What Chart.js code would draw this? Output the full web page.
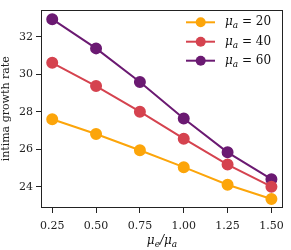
<!DOCTYPE html>
<html><head><meta charset="utf-8">
<script src="https://cdn.jsdelivr.net/npm/chart.js@4/dist/chart.umd.min.js"></script>
<style>html,body{margin:0;padding:0;background:#fff}#wrap{width:291px;height:250px}</style>
</head><body><div id="wrap"><canvas id="c" width="291" height="250"></canvas></div>
<script>
const xValues = [0.25, 0.50, 0.75, 1.00, 1.25, 1.50];
const muA = [20, 40, 60];
const series20 = [27.60, 26.81, 25.94, 25.04, 24.10, 23.34];
const series40 = [30.61, 29.37, 28.00, 26.56, 25.18, 24.00];
const series60 = [32.94, 31.38, 29.59, 27.64, 25.83, 24.40];
const xTicks = [0.25, 0.50, 0.75, 1.00, 1.25, 1.50];
const yTicks = [24, 26, 28, 30, 32];
const colors = ['#fca50a', '#d5434f', '#6b1a72'];
const allSeries = [series20, series40, series60];

const FONT = "'DejaVu Serif', 'Liberation Serif', serif";

const datasets = allSeries.map((s, i) => ({
  label: 'mu_a = ' + muA[i],
  data: s.map((v, j) => ({x: xValues[j], y: v})),
  borderColor: colors[i], backgroundColor: colors[i],
  pointBackgroundColor: colors[i], pointBorderColor: colors[i],
  borderWidth: 2, pointRadius: 5, pointHoverRadius: 5, tension: 0
}));

function fontFor(st, size) {
  if (st === 's') return 'italic ' + Math.round(size * 0.72) + 'px ' + FONT;
  if (st === 'i') return 'italic ' + size + 'px ' + FONT;
  return size + 'px ' + FONT;
}
function drawMath(ctx, x, y, parts, size) {
  let cx = x;
  for (const [t, st] of parts) {
    ctx.font = fontFor(st, size);
    ctx.fillText(t, cx, st === 's' ? y + size * 0.3 : y);
    cx += ctx.measureText(t).width;
  }
  return cx - x;
}
function measureMath(ctx, parts, size) {
  let w = 0;
  for (const [t, st] of parts) { ctx.font = fontFor(st, size); w += ctx.measureText(t).width; }
  return w;
}

const extras = {
  id: 'extras',
  afterDraw(chart) {
    const ctx = chart.ctx, a = chart.chartArea;
    ctx.save();
    ctx.strokeStyle = '#222'; ctx.lineWidth = 1;
    ctx.strokeRect(Math.round(a.left) + 0.5, Math.round(a.top) + 0.5, Math.round(a.right - a.left) - 1, Math.round(a.bottom - a.top) - 1);
    ctx.textBaseline = 'middle';
    const rows = [22.3, 41.7, 60.7];
    muA.forEach((m, i) => {
      const y = rows[i];
      ctx.strokeStyle = colors[i]; ctx.lineWidth = 2;
      ctx.beginPath(); ctx.moveTo(186, y); ctx.lineTo(215, y); ctx.stroke();
      ctx.fillStyle = colors[i];
      ctx.beginPath(); ctx.arc(200.7, y, 5, 0, Math.PI * 2); ctx.fill();
      ctx.fillStyle = '#111';
      drawMath(ctx, 225, y, [['μ', 'i'], ['a', 's'], [' = ' + m, 'n']], 12);
    });
    const parts = [['μ', 'i'], ['e', 's'], ['/', 'i'], ['μ', 'i'], ['a', 's']];
    const w = measureMath(ctx, parts, 12);
    ctx.fillStyle = '#111';
    drawMath(ctx, (a.left + a.right) / 2 - w / 2, 241, parts, 12);
    ctx.restore();
  }
};

new Chart(document.getElementById('c'), {
  type: 'line',
  data: { datasets },
  options: {
    responsive: false, animation: false,
    layout: { padding: { left: 0, right: 5, top: 4, bottom: 0 } },
    plugins: { legend: { display: false }, tooltip: { enabled: false } },
    scales: {
      x: {
        type: 'linear', min: 0.186, max: 1.566,
        afterBuildTicks: s => { s.ticks = xTicks.map(v => ({ value: v })); },
        afterFit: s => { s.height = 42; },
        grid: { drawOnChartArea: false, drawTicks: true, tickLength: 5, color: '#222' },
        border: { display: false },
        ticks: { color: '#222', font: { family: FONT, size: 11 }, padding: 7, maxRotation: 0,
                 callback: v => Number(v).toFixed(2) }
      },
      y: {
        type: 'linear', min: 22.86, max: 33.45,
        afterBuildTicks: s => { s.ticks = yTicks.map(v => ({ value: v })); },
        afterFit: s => { s.width = 41; },
        grid: { drawOnChartArea: false, drawTicks: true, tickLength: 5, color: '#222' },
        border: { display: false },
        ticks: { color: '#222', font: { family: FONT, size: 11 }, padding: 3 },
        title: { display: true, text: 'intima growth rate', color: '#222', font: { family: FONT, size: 11 }, padding: 0 }
      }
    }
  },
  plugins: [extras]
});
</script></body></html>
